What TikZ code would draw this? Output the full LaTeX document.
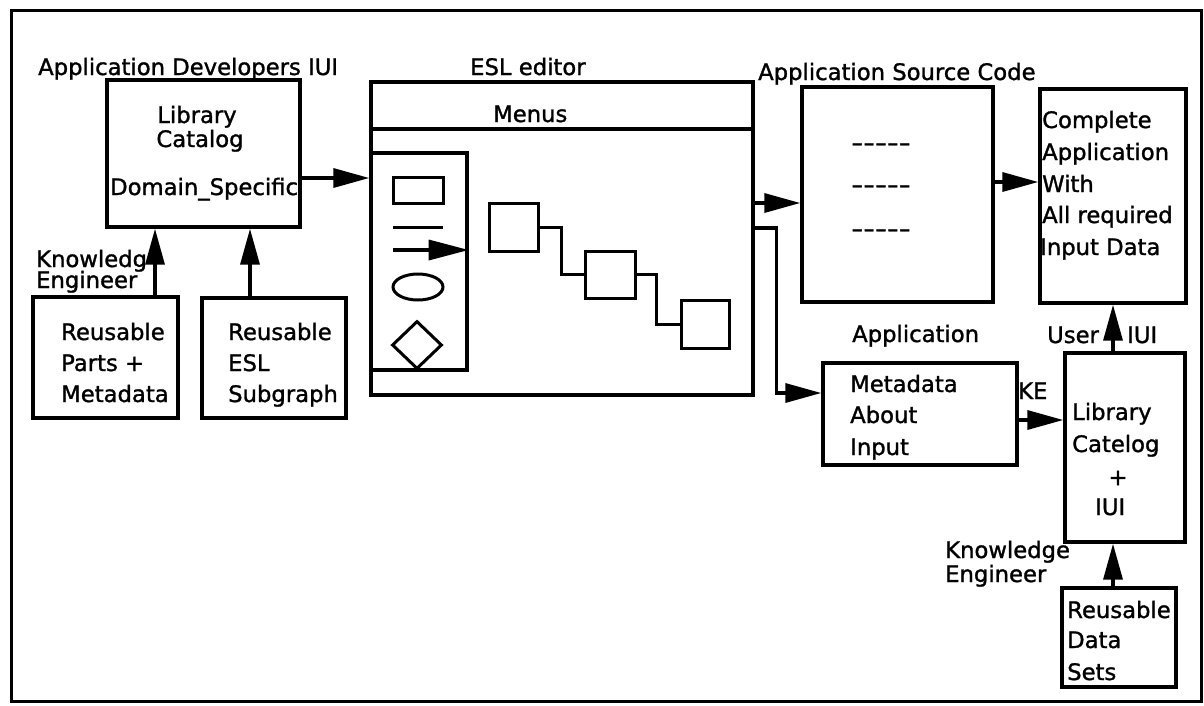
\documentclass[tikz,border=0pt]{standalone}
\usepackage{fontspec}
\setmainfont{DejaVu Sans}[FakeBold=1.3]
\usetikzlibrary{arrows.meta,shapes.geometric}
\newcommand{\dashrow}{\scalebox{1.45}[1]{-\kern0pt-\kern0pt-\kern0pt-\kern0pt-}}
\begin{document}
\begin{tikzpicture}[x=1pt,y=-1pt,
  every node/.style={font=\fontsize{22.7}{26}\selectfont},
  box/.style={draw, line width=3.4pt, inner sep=0pt},
  thin box/.style={draw, line width=3pt, inner sep=0pt},
  txt/.style={inner sep=0pt, anchor=base west},
  ctxt/.style={inner sep=0pt, anchor=base},
  wire/.style={line width=3pt},
  arr/.style={line width=3.4pt, -{Triangle[length=36pt,width=19pt]}}]
\useasboundingbox (0,0) rectangle (1204,705);

% outer frame
\node[draw, line width=3pt, inner sep=0pt, minimum width=1190pt, minimum height=691pt] (frame) at (606,355.5) {};

% ---- application developers side
\node[txt] (adtitle) at (38,75) {Application Developers IUI};
\node[box, minimum width=193pt, minimum height=147pt] (lib) at (203.5,153.5) {};
\node[ctxt] (lib1) at (197,123) {Library};
\node[ctxt] (lib2) at (200,147) {Catalog};
\node[txt] (lib3) at (110,195) {Domain\_Specific};

\node[txt] (ke1) at (36,267) {Knowledg};
\node[txt] (ke2) at (36,288) {Engineer};

\node[box, minimum width=145pt, minimum height=121pt] (rp) at (105.5,357.5) {};
\node[txt] (rp1) at (61,340) {Reusable};
\node[txt] (rp2) at (61,371) {Parts +};
\node[txt] (rp3) at (61,402) {Metadata};

\node[box, minimum width=144pt, minimum height=120pt] (resl) at (274,358) {};
\node[txt] (re1) at (228,340) {Reusable};
\node[txt] (re2) at (228,371) {ESL};
\node[txt] (re3) at (228,402) {Subgraph};

\draw[arr] ([xshift=49.5pt]rp.north) -- ([xshift=49.5pt]rp.north |- lib.south);
\draw[arr] ([xshift=-24pt]resl.north) -- ([xshift=-24pt]resl.north |- lib.south);

% ---- ESL editor window
\node[txt] (esltitle) at (470,75) {ESL editor};
\node[box, minimum width=382pt, minimum height=313pt] (esl) at (562,238.5) {};
\coordinate (mbl) at (371,129);
\draw[line width=3.4pt] (mbl) -- (mbl -| esl.east);
\node[txt] (menus) at (493,122) {Menus};

% tool palette
\node[box, minimum width=96pt, minimum height=217pt] (pal) at (419,261.5) {};
\node[thin box, minimum width=50pt, minimum height=26pt] (prect) at (418,190) {};
\coordinate (pl1) at (393,227);
\coordinate (pl2) at (443,227);
\draw[wire] (pl1) -- (pl2);
\coordinate (pa) at (393,250);
\draw[arr, -{Triangle[length=40pt,width=20pt]}] (pa) -- (pa -| pal.east);
\node[thin box, ellipse, minimum width=50pt, minimum height=26pt] (pell) at (418,287) {};
\node[thin box, diamond, minimum width=50pt, minimum height=48pt] (pdia) at (417,345) {};

% sample graph
\node[thin box, minimum width=49pt, minimum height=48pt] (sq1) at (513.5,227) {};
\node[thin box, minimum width=50pt, minimum height=47pt] (sq2) at (610,274.5) {};
\node[thin box, minimum width=48pt, minimum height=48pt] (sq3) at (705,324) {};
\draw[wire] (sq1.east) -- ++(22,0) |- (sq2.west);
\draw[wire] (sq2.east) -- ++(20,0) |- (sq3.west);

\draw[arr] ([yshift=-24.5pt]lib.east) coordinate (a1) -- (a1 -| esl.west);

% ---- source code
\node[txt] (srctitle) at (758,80) {Application Source Code};
\node[box, minimum width=191pt, minimum height=215pt] (src) at (897.5,194.5) {};
\node[inner sep=0pt] (d1) at (881,147) {\dashrow};
\node[inner sep=0pt] (d2) at (881,189) {\dashrow};
\node[inner sep=0pt] (d3) at (881,233) {\dashrow};

\draw[arr] ([yshift=35.5pt]esl.east) coordinate (a2) -- (a2 -| src.west);

% ---- complete application
\node[box, minimum width=146pt, minimum height=214pt] (comp) at (1113,196) {};
\node[txt] (c1) at (1042,128) {Complete};
\node[txt] (c2) at (1042,160) {Application};
\node[txt] (c3) at (1042,192) {With};
\node[txt] (c4) at (1042,223) {All required};
\node[txt] (c5) at (1040,255) {Input Data};

\draw[arr] ([yshift=12.5pt]src.east) coordinate (a3) -- (a3 -| comp.west);

% ---- application metadata
\node[txt] (apptitle) at (852,342) {Application};
\node[box, minimum width=194pt, minimum height=102pt] (meta) at (920,414) {};
\node[txt] (m1) at (850,392) {Metadata};
\node[txt] (m2) at (850,423) {About};
\node[txt] (m3) at (850,455) {Input};

\draw[arr] ([yshift=10.5pt]esl.east) -- ++(22,0) |- ([yshift=21pt]meta.west);

% ---- library catalog for the end user
\node[box, minimum width=120pt, minimum height=189pt] (cat) at (1125,447.5) {};
\node[txt] (k1) at (1072,420) {Library};
\node[txt] (k2) at (1072,452) {Catelog};
\node[inner sep=0pt] (k3) at (1118,478) {+};
\node[txt] (k4) at (1095,515) {IUI};

\node[txt] (kelbl) at (1018,399) {KE};
\draw[arr] ([yshift=-6pt]meta.east) coordinate (a4) -- (a4 -| cat.west);

\node[txt] (user) at (1047,343) {User};
\node[txt] (uiui) at (1127,343) {IUI};
\draw[arr] ([xshift=-12pt]cat.north) -- ([xshift=-12pt]cat.north |- comp.south);

\node[txt] (ke3) at (945,558) {Knowledge};
\node[txt] (ke4) at (945,582) {Engineer};

\node[box, minimum width=114pt, minimum height=99pt] (rds) at (1119,637.5) {};
\node[txt] (r1) at (1067,618) {Reusable};
\node[txt] (r2) at (1067,648) {Data};
\node[txt] (r3) at (1067,680) {Sets};

\draw[arr] ([xshift=-6pt]rds.north) -- ([xshift=-6pt]rds.north |- cat.south);
\end{tikzpicture}
\end{document}
